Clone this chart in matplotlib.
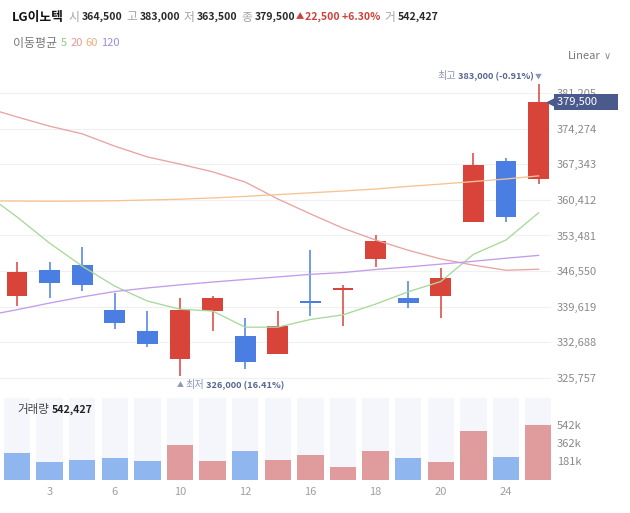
import matplotlib
matplotlib.use("Agg")
import matplotlib.pyplot as plt
import matplotlib.transforms as mtransforms

plt.rcParams['font.family'] = ['Noto Sans CJK KR', 'DejaVu Sans']

# daily candles (day of month)
dates = [2, 3, 5, 6, 9, 10, 11, 12, 13, 16, 17, 18, 19, 20, 23, 24, 25]
opens = [341700, 346800, 347800, 338900, 334900, 329400, 338800, 333800, 330400,
         340800, 342850, 348800, 341300, 341700, 356200, 368100, 364500]
highs = [348250, 348250, 351200, 342300, 338800, 341300, 341700, 337300, 338800,
         350600, 343750, 353600, 344700, 347200, 369600, 368600, 383000]
lows = [339700, 341300, 342700, 335300, 331700, 326000, 334900, 327400, 330300,
        337800, 335800, 347300, 339300, 337300, 356200, 356200, 363500]
closes = [346300, 344300, 343900, 336400, 332300, 338900, 341300, 328900, 335800,
          340400, 343250, 352400, 340400, 345200, 367200, 357000, 379500]
prevClose = 347500
volumes = [260400, 171600, 197200, 217000, 181500, 342200, 187400, 280100, 197200,
           243600, 128200, 280100, 217000, 171600, 477300, 226800, 542427]

# moving averages, first value is the day before the first candle
ma5 = [361800, 357100, 352000, 347500, 343600, 340700, 339100, 338750, 335600, 335600,
       337100, 338000, 340100, 342500, 344500, 349800, 352600, 357900]
ma20 = [378500, 376600, 374800, 373300, 370900, 368800, 367400, 365900, 363900, 360600,
        357700, 354900, 352600, 350600, 348900, 347700, 346700, 346900]
ma60 = [360200, 360200, 360150, 360200, 360250, 360400, 360550, 360800, 361100, 361450,
        361800, 362150, 362550, 363050, 363500, 364000, 364500, 365100]
ma120 = [337800, 339000, 340300, 341500, 342550, 343250, 343850, 344400, 344900, 345400,
         345900, 346250, 346850, 347350, 347900, 348450, 349050, 349600]

priceTicks = [325757 + 6931 * k for k in range(9)]
volTicks = [180809, 361618, 542427]
volLabels = ['181k', '362k', '542k']

red = '#d8443a'
blue = '#4a7ee2'
volRed = '#e09c9c'
volBlue = '#8fb6ef'
W, H = 630, 513

fig = plt.figure(figsize=(W / 100, H / 100), dpi=100)
fig.patch.set_facecolor('white')

axLeft, axRight = 0, 551
ax = fig.add_axes([axLeft / W, (H - 390) / H, (axRight - axLeft) / W, 325 / H])
axv = fig.add_axes([axLeft / W, (H - 479.7) / H, (axRight - axLeft) / W, 82 / H])

n = len(dates)
idx = list(range(n))
maIdx = list(range(-1, n))

for i in idx:
    up = closes[i] >= opens[i]
    c = red if up else blue
    ax.vlines(i, lows[i], highs[i], color=c, lw=1.1, zorder=3)
    ax.bar(i, max(abs(closes[i] - opens[i]), 300), bottom=min(opens[i], closes[i]),
           width=0.64, color=c, zorder=3)

ax.plot(maIdx, ma5, color='#a9d89b', lw=0.95, zorder=4)
ax.plot(maIdx, ma20, color='#e9a3a3', lw=0.95, zorder=4)
ax.plot(maIdx, ma60, color='#f5c393', lw=0.95, zorder=4)
ax.plot(maIdx, ma120, color='#c29cec', lw=0.95, zorder=4)

ax.set_xlim(-0.52, 16.38)
ax.set_ylim(323349, 386724)
ax.set_yticks(priceTicks)
ax.set_yticklabels([f'{t:,}' for t in priceTicks])
ax.yaxis.tick_right()
ax.tick_params(axis='y', length=0, pad=4.3, labelsize=8, labelcolor='#8a8a8a')
ax.tick_params(axis='x', bottom=False, labelbottom=False)
ax.grid(axis='y', color='#f0f0f0', lw=0.8)
ax.set_axisbelow(True)
for s in ax.spines.values():
    s.set_visible(False)

# last price tag
blend = mtransforms.blended_transform_factory(ax.transAxes, ax.transData)
ax.annotate(f'{closes[-1]:,}       ', xy=(1.0, closes[-1]), xycoords=blend,
            xytext=(6, 0), textcoords='offset pixels', va='center', ha='left',
            color='white', fontsize=8, zorder=6, annotation_clip=False,
            bbox=dict(boxstyle='square,pad=0.3', fc='#4b5a8d', ec='none'))
ax.plot([1.0], [closes[-1]], marker='<', ms=6, color='#4b5a8d', transform=blend,
        clip_on=False, zorder=6)

# volume
maxVol = max(volumes) * 82 / 55
volColors = []
last = prevClose
for c in closes:
    volColors.append(volRed if c > last else volBlue)
    last = c
axv.bar(idx, [maxVol] * n, width=0.81, color='#f4f6fb', zorder=1)
axv.bar(idx, volumes, width=0.81, color=volColors, zorder=2)
axv.set_xlim(-0.52, 16.38)
axv.set_ylim(0, maxVol)
axv.set_yticks(volTicks)
axv.set_yticklabels(volLabels)
axv.yaxis.tick_right()
axv.tick_params(axis='y', length=0, pad=4.3, labelsize=8, labelcolor='#8a8a8a')
axv.set_xticks(idx[1::2])
axv.set_xticklabels([str(d) for d in dates[1::2]])
axv.tick_params(axis='x', length=0, pad=5, labelsize=8, labelcolor='#a0a0a0')
for s in axv.spines.values():
    s.set_visible(False)

renderer = fig.canvas.get_renderer()
ident = mtransforms.IdentityTransform()


def drawPieces(x, yTop, pieces, ha='left'):
    texts = []
    for s, color, weight, gap, size in pieces:
        t = fig.text(0, 0, s, color=color, fontsize=size, fontweight=weight,
                     transform=ident, va='center', ha='left')
        texts.append((t, gap))
    widths = [t.get_window_extent(renderer).width for t, g in texts]
    total = sum(widths) + sum(g for t, g in texts)
    cx = x if ha == 'left' else x - total
    for (t, g), w in zip(texts, widths):
        cx += g
        t.set_position((cx, H - yTop))
        cx += w


grey = '#a3a3a3'
dark = '#2a2a2a'
numSize = 7.6
drawPieces(12, 17, [
    ('LG이노텍', '#111111', 'bold', 0, 9.2),
    ('시', grey, 'normal', 5, 8.5), (f'{opens[-1]:,}', dark, 'bold', 2, numSize),
    ('고', grey, 'normal', 4, 8.5), (f'{highs[-1]:,}', dark, 'bold', 2, numSize),
    ('저', grey, 'normal', 4, 8.5), (f'{lows[-1]:,}', dark, 'bold', 2, numSize),
    ('종', grey, 'normal', 4, 8.5), (f'{closes[-1]:,}', dark, 'bold', 2, numSize),
    ('▲', '#d0403a', 'normal', 1, 6), ('22,500 +6.30%', '#d0403a', 'bold', 1, numSize),
    ('거', grey, 'normal', 4, 8.5), (f'{volumes[-1]:,}', dark, 'bold', 2, numSize),
])
drawPieces(13, 43, [
    ('이동평균', '#777777', 'normal', 0, 8.6),
    ('5', '#8fcb7e', 'normal', 4, 8), ('20', '#e39a9a', 'normal', 3, 8),
    ('60', '#eeae7c', 'normal', 3, 8), ('120', '#a08bdc', 'normal', 3, 8),
])
fig.text(568, H - 56, 'Linear', transform=ident, fontsize=8, color='#777777',
         va='center')
fig.text(604, H - 56, '∨', transform=ident, fontsize=7, color='#888888',
         va='center', family='DejaVu Sans')
drawPieces(17, 410, [
    ('거래량', '#444444', 'normal', 0, 8.3), (f'{volumes[-1]:,}', '#222222', 'bold', 3, 7.6),
])

# high / low markers
hiIdx = highs.index(max(highs))
loIdx = lows.index(min(lows))
hx, hy = ax.transData.transform((hiIdx, highs[hiIdx]))
lx, ly = ax.transData.transform((loIdx, lows[loIdx]))
light = '#8e97ba'
mark = '#56648f'
hiPct = (closes[-1] / highs[hiIdx] - 1) * 100
loPct = (closes[-1] / lows[loIdx] - 1) * 100
drawPieces(hx + 3, H - hy - 8, [
    ('최고', light, 'normal', 0, 7.3), (f'{highs[hiIdx]:,} ({hiPct:.2f}%)', mark, 'bold', 2, 6.6),
    ('▼', light, 'normal', 1, 5),
], ha='right')
drawPieces(lx - 3, H - ly + 9, [
    ('▲', light, 'normal', 0, 5), ('최저', light, 'normal', 1, 7.3),
    (f'{lows[loIdx]:,} ({loPct:.2f}%)', mark, 'bold', 2, 6.6),
])

fig.savefig('out.png', dpi=100)
